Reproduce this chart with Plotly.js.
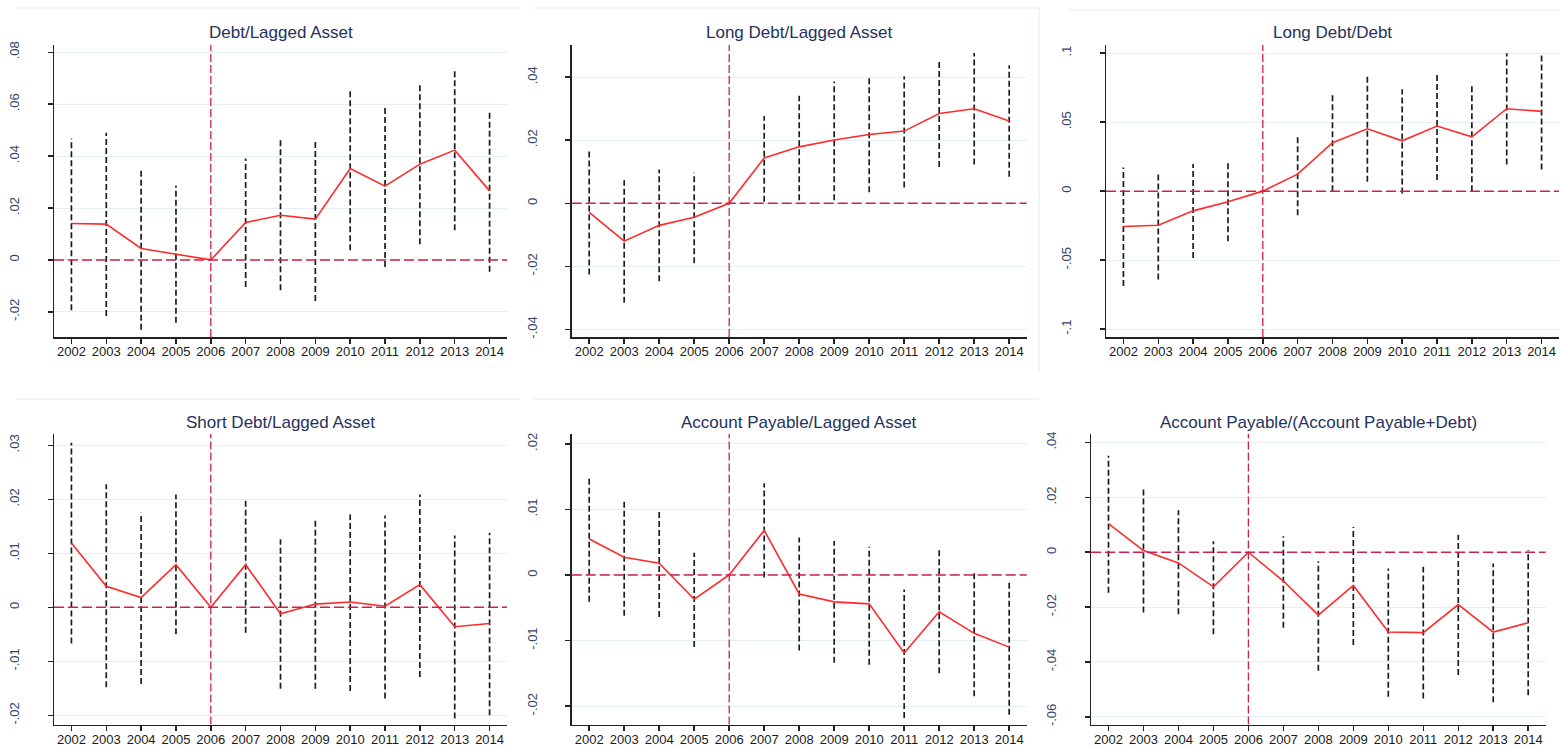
<!DOCTYPE html>
<html>
<head>
<meta charset="utf-8">
<script src="https://cdn.plot.ly/plotly-3.0.1.min.js"></script>
<style>
  html, body { margin: 0; padding: 0; background: #ffffff; }
  #chart { width: 1560px; height: 747px; }
</style>
</head>
<body>
<div id="chart"></div>
<script>
// ---------- data ----------
const years = [2002, 2003, 2004, 2005, 2006, 2007, 2008, 2009, 2010, 2011, 2012, 2013, 2014];
const yearLabels = ["2002","2003","2004","2005","2006","2007","2008","2009","2010","2011","2012","2013","2014"];

const panelTitles = [
  "Debt/Lagged Asset",
  "Long Debt/Lagged Asset",
  "Long Debt/Debt",
  "Short Debt/Lagged Asset",
  "Account Payable/Lagged Asset",
  "Account Payable/(Account Payable+Debt)"
];

// Debt / Lagged Asset
const debtLagCoef = [0.0140, 0.0138, 0.0044, 0.0022, 0, 0.0144, 0.0172, 0.0157, 0.0352, 0.0284, 0.0369, 0.0423, 0.0266];
const debtLagLo   = [-0.0194, -0.0216, -0.0269, -0.0242, null, -0.0104, -0.0117, -0.0158, 0.0037, -0.0027, 0.0060, 0.0114, -0.0046];
const debtLagHi   = [0.0468, 0.0490, 0.0349, 0.0286, null, 0.0391, 0.0462, 0.0462, 0.0657, 0.0590, 0.0674, 0.0734, 0.0575];

// Long Debt / Lagged Asset
const longLagCoef = [-0.0029, -0.0120, -0.0070, -0.0044, 0, 0.0144, 0.0179, 0.0201, 0.0218, 0.0229, 0.0285, 0.0300, 0.0261];
const longLagLo   = [-0.0226, -0.0315, -0.0247, -0.0190, null, 0.0005, 0.0010, 0.0010, 0.0035, 0.0050, 0.0115, 0.0123, 0.0084];
const longLagHi   = [0.0171, 0.0073, 0.0107, 0.0097, null, 0.0277, 0.0341, 0.0386, 0.0399, 0.0403, 0.0449, 0.0477, 0.0438];

// Long Debt / Debt
const longDebtCoef = [-0.0256, -0.0247, -0.0143, -0.0077, 0, 0.0123, 0.0351, 0.0452, 0.0365, 0.0472, 0.0394, 0.0597, 0.0578];
const longDebtLo   = [-0.0687, -0.0641, -0.0484, -0.0363, null, -0.0174, 0.0000, 0.0068, -0.0017, 0.0080, 0.0000, 0.0193, 0.0157];
const longDebtHi   = [0.0172, 0.0128, 0.0196, 0.0206, null, 0.0406, 0.0704, 0.0829, 0.0738, 0.0849, 0.0769, 0.0999, 0.0999];

// Short Debt / Lagged Asset
const shortLagCoef = [0.0119, 0.0039, 0.0018, 0.0079, 0, 0.0079, -0.0012, 0.0006, 0.0010, 0.0002, 0.0042, -0.0036, -0.0030];
const shortLagLo   = [-0.0067, -0.0148, -0.0142, -0.0050, null, -0.0047, -0.0151, -0.0151, -0.0155, -0.0169, -0.0129, -0.0206, -0.0200];
const shortLagHi   = [0.0305, 0.0228, 0.0175, 0.0209, null, 0.0203, 0.0126, 0.0164, 0.0172, 0.0170, 0.0209, 0.0133, 0.0138];

// Account Payable / Lagged Asset
const apLagCoef = [0.0055, 0.0027, 0.0018, -0.0037, 0, 0.0068, -0.0029, -0.0041, -0.0044, -0.0119, -0.0056, -0.0089, -0.0110];
const apLagLo   = [-0.0041, -0.0062, -0.0064, -0.0110, null, -0.0004, -0.0115, -0.0134, -0.0137, -0.0218, -0.0150, -0.0185, -0.0213];
const apLagHi   = [0.0150, 0.0116, 0.0096, 0.0034, null, 0.0140, 0.0057, 0.0052, 0.0043, -0.0022, 0.0039, 0.0006, -0.0008];

// Account Payable / (Account Payable + Debt)
const apShareCoef = [0.0104, 0.0006, -0.0039, -0.0126, 0, -0.0105, -0.0229, -0.0121, -0.0291, -0.0293, -0.0191, -0.0291, -0.0257];
const apShareLo   = [-0.0148, -0.0220, -0.0226, -0.0299, null, -0.0275, -0.0432, -0.0338, -0.0527, -0.0533, -0.0448, -0.0547, -0.0521];
const apShareHi   = [0.0352, 0.0231, 0.0153, 0.0040, null, 0.0058, -0.0033, 0.0092, -0.0059, -0.0053, 0.0064, -0.0041, 0.0007];

// y-axis ticks per panel
const yTicks1 = [-0.02, 0, 0.02, 0.04, 0.06, 0.08];
const yText1  = ["-.02", "0", ".02", ".04", ".06", ".08"];
const yTicks2 = [-0.04, -0.02, 0, 0.02, 0.04];
const yText2  = ["-.04", "-.02", "0", ".02", ".04"];
const yTicks3 = [-0.1, -0.05, 0, 0.05, 0.1];
const yText3  = ["-.1", "-.05", "0", ".05", ".1"];
const yTicks4 = [-0.02, -0.01, 0, 0.01, 0.02, 0.03];
const yText4  = ["-.02", "-.01", "0", ".01", ".02", ".03"];
const yTicks5 = [-0.02, -0.01, 0, 0.01, 0.02];
const yText5  = ["-.02", "-.01", "0", ".01", ".02"];
const yTicks6 = [-0.06, -0.04, -0.02, 0, 0.02, 0.04];
const yText6  = ["-.06", "-.04", "-.02", "0", ".02", ".04"];

const eventYear = 2006;

// ---------- layout geometry ----------
const W = 1560, H = 747;
const panels = [
  {coef: debtLagCoef,  lo: debtLagLo,  hi: debtLagHi,  tv: yTicks1, tt: yText1, yr: [-0.0297, 0.0828], px: [54, 507],    py: [45, 337]},
  {coef: longLagCoef,  lo: longLagLo,  hi: longLagHi,  tv: yTicks2, tt: yText2, yr: [-0.0424, 0.0502], px: [571.7, 1026.7], py: [45, 337]},
  {coef: longDebtCoef, lo: longDebtLo, hi: longDebtHi, tv: yTicks3, tt: yText3, yr: [-0.1057, 0.1059], px: [1106, 1559],  py: [45, 337]},
  {coef: shortLagCoef, lo: shortLagLo, hi: shortLagHi, tv: yTicks4, tt: yText4, yr: [-0.0217, 0.0321], px: [54, 507],    py: [434, 724.5]},
  {coef: apLagCoef,    lo: apLagLo,    hi: apLagHi,    tv: yTicks5, tt: yText5, yr: [-0.0228, 0.0215], px: [571.7, 1026.7], py: [434, 724.5]},
  {coef: apShareCoef,  lo: apShareLo,  hi: apShareHi,  tv: yTicks6, tt: yText6, yr: [-0.0628, 0.0431], px: [1091, 1545.7], py: [434, 724.5]}
];

const FONT = "Liberation Sans, Arial, Helvetica, sans-serif";
const traces = [];
const layout = {
  width: W, height: H,
  margin: {l: 0, r: 0, t: 0, b: 0},
  paper_bgcolor: "#ffffff",
  plot_bgcolor: "#ffffff",
  showlegend: false,
  font: {family: FONT, size: 13, color: "#222"},
  shapes: [],
  annotations: []
};

panels.forEach((p, i) => {
  const n = i + 1;
  const xa = "x" + (n === 1 ? "" : n);
  const ya = "y" + (n === 1 ? "" : n);
  const xKey = "xaxis" + (n === 1 ? "" : n);
  const yKey = "yaxis" + (n === 1 ? "" : n);

  // CI segments built from data arrays
  const cx = [], cy = [];
  years.forEach((yr, k) => {
    if (p.lo[k] === null || p.hi[k] === null) return;
    cx.push(yr, yr, null);
    cy.push(p.lo[k], p.hi[k], null);
  });
  traces.push({
    type: "scatter", mode: "lines", x: cx, y: cy, xaxis: xa, yaxis: ya,
    line: {color: "#1c1c1c", width: 1.7, dash: "6px,3px"},
    hoverinfo: "skip", connectgaps: false
  });
  traces.push({
    type: "scatter", mode: "lines", x: years, y: p.coef, xaxis: xa, yaxis: ya,
    line: {color: "#ff2a2a", width: 1.6}
  });

  layout[xKey] = {
    domain: [p.px[0] / W, p.px[1] / W],
    anchor: ya,
    range: [2001.5, 2014.5],
    tickmode: "array", tickvals: years, ticktext: yearLabels,
    ticks: "outside", ticklen: 5, tickwidth: 1.5, tickcolor: "#222",
    showline: true, linecolor: "#222", linewidth: 1.5,
    showgrid: false, zeroline: false, fixedrange: true,
    tickfont: {family: FONT, size: 13, color: "#1a1a1a"},
    ticklabelstandoff: -3
  };
  layout[yKey] = {
    domain: [1 - p.py[1] / H, 1 - p.py[0] / H],
    anchor: xa,
    range: p.yr,
    tickmode: "array", tickvals: p.tv, ticktext: p.tt,
    ticks: "outside", ticklen: 5, tickwidth: 1.5, tickcolor: "#222",
    showline: true, linecolor: "#222", linewidth: 1.5,
    showgrid: true, gridcolor: "#e6eef1", gridwidth: 1,
    zeroline: false, fixedrange: true,
    tickangle: -90,
    tickfont: {family: FONT, size: 13, color: "#34466b"},
    ticklabelstandoff: 23
  };

  // event-year vertical line and zero line
  layout.shapes.push({
    type: "line", xref: xa, yref: ya + " domain",
    x0: eventYear, x1: eventYear, y0: 0, y1: 1,
    line: {color: "#cf1f4b", width: 1.3, dash: "8px,3px"}, layer: "above"
  });
  layout.shapes.push({
    type: "line", xref: xa + " domain", yref: ya,
    x0: 0, x1: 1, y0: 0, y1: 0,
    line: {color: "#cf1f4b", width: 1.5, dash: "10px,4px"}, layer: "above"
  });

  // panel title
  layout.annotations.push({
    xref: "paper", yref: "paper",
    x: (p.px[0] + p.px[1]) / 2 / W,
    y: 1 - (p.py[0] - 12) / H,
    xanchor: "center", yanchor: "middle",
    text: panelTitles[i], showarrow: false,
    font: {family: FONT, size: 17, color: "#23325e"}
  });
});

// faint outer region borders
const borderColor = "#e6eef1";
[[16, 520, 8], [533, 1039, 8], [1068, 1560, 10], [16, 520, 399], [533, 1039, 399]].forEach(b => {
  layout.shapes.push({
    type: "line", xref: "paper", yref: "paper",
    x0: b[0] / W, x1: b[1] / W, y0: 1 - b[2] / H, y1: 1 - b[2] / H,
    line: {color: borderColor, width: 1.2}, layer: "below"
  });
});
layout.shapes.push({
  type: "line", xref: "paper", yref: "paper",
  x0: 1039 / W, x1: 1039 / W, y0: 1 - 8 / H, y1: 1 - 373 / H,
  line: {color: borderColor, width: 1.2}, layer: "below"
});

Plotly.newPlot("chart", traces, layout, {displayModeBar: false, staticPlot: true});
</script>
</body>
</html>
